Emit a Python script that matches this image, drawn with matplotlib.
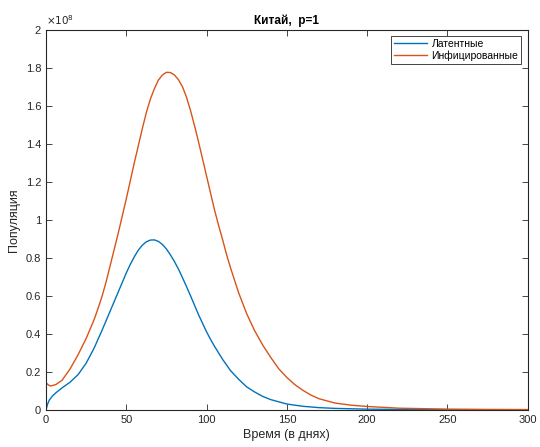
import matplotlib.pyplot as plt
import numpy as np

plt.rcParams['font.family'] = ['Liberation Sans', 'DejaVu Sans']

# Время (дни) и численность, в единицах 1e8
t_lat = [0, 1, 2, 4, 6, 10, 15, 20, 25, 30, 35, 40, 45, 50, 52.5, 55, 57.5, 60,
         62.5, 65, 67.5, 70, 72.5, 75, 77.5, 80, 82.5, 85, 87.5, 90, 92.5, 95,
         97.5, 100, 102.5, 105, 110, 115, 120, 125, 130, 135, 140, 150, 160,
         170, 180, 200, 225, 250, 300]
latent = [0.0, 0.03, 0.05, 0.072, 0.088, 0.115, 0.145, 0.185, 0.245, 0.325,
          0.42, 0.52, 0.62, 0.72, 0.765, 0.805, 0.84, 0.866, 0.884, 0.893,
          0.894, 0.886, 0.87, 0.846, 0.815, 0.78, 0.74, 0.695, 0.648, 0.60,
          0.55, 0.50, 0.455, 0.41, 0.37, 0.333, 0.265, 0.205, 0.16, 0.12,
          0.093, 0.07, 0.053, 0.03, 0.018, 0.011, 0.007, 0.003, 0.0012, 0.0005,
          0.0001]

t_inf = [0, 1.5, 3, 6, 10, 15, 20, 25, 30, 32.5, 35, 37.5, 40, 42.5, 45, 47.5,
         50, 52.5, 55, 57.5, 60, 62.5, 65, 67.5, 70, 72.5, 75, 77.5, 80, 82.5,
         85, 87.5, 90, 92.5, 95, 97.5, 100, 102.5, 105, 107.5, 110, 112.5, 115,
         117.5, 120, 125, 130, 135, 140, 145, 150, 155, 160, 165, 170, 180, 190,
         200, 220, 250, 275, 300]
infected = [0.142, 0.13, 0.125, 0.132, 0.155, 0.215, 0.29, 0.375, 0.475, 0.535,
            0.60, 0.675, 0.76, 0.845, 0.93, 1.02, 1.11, 1.205, 1.30, 1.39,
            1.48, 1.565, 1.635, 1.69, 1.735, 1.762, 1.776, 1.775, 1.762, 1.737,
            1.70, 1.645, 1.575, 1.495, 1.41, 1.32, 1.23, 1.14, 1.05, 0.97,
            0.895, 0.815, 0.745, 0.68, 0.615, 0.505, 0.415, 0.34, 0.275, 0.215,
            0.17, 0.132, 0.102, 0.077, 0.058, 0.035, 0.024, 0.017, 0.008,
            0.003, 0.0015, 0.0008]

fig = plt.figure(figsize=(5.4, 4.47), dpi=100)
ax = fig.add_axes([0.0852, 0.0834, 0.892, 0.850])

ax.plot(t_lat, latent, color='#0072BD', lw=1.0, label='Латентные')
ax.plot(t_inf, infected, color='#D95319', lw=1.0, label='Инфицированные')

ax.set_xlim(0, 300)
ax.set_ylim(0, 2)
ax.set_xticks(np.arange(0, 301, 50))
yt = np.round(np.arange(0, 2.01, 0.2), 1)
ax.set_yticks(yt)
ax.set_yticklabels(['%g' % v for v in yt])

axc = '#262626'
for s in ax.spines.values():
    s.set_color(axc)
    s.set_linewidth(0.8)
ax.tick_params(direction='in', top=True, right=True, length=4, width=0.6,
               colors=axc, labelsize=8, labelcolor=axc)

ax.text(0.0, 1.006, r'$\times10^{8}$', transform=ax.transAxes, fontsize=7.5,
        color=axc, ha='left', va='bottom')
ax.set_title('Китай,  p=1', fontsize=8.5, fontweight='bold', color='black', pad=4)
ax.set_xlabel('Время (в днях)', fontsize=9, color=axc, labelpad=3)
ax.set_ylabel('Популяция', fontsize=9, color=axc, labelpad=4)

leg = ax.legend(loc='upper right', fontsize=7.5, frameon=True, fancybox=False,
                framealpha=1, edgecolor=axc, handlelength=3.2, borderpad=0.3,
                labelspacing=0.1, handletextpad=0.4, borderaxespad=0.6)
leg.get_frame().set_linewidth(0.6)

fig.savefig('out.png', dpi=100)
